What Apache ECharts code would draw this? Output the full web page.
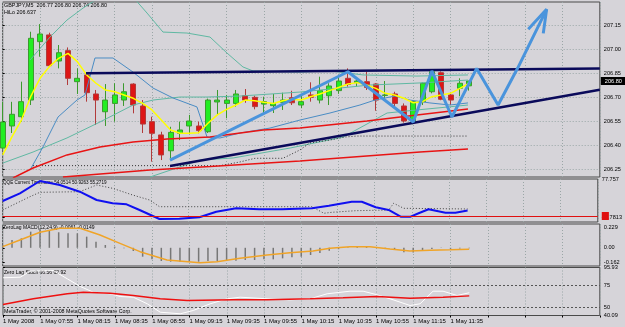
<!DOCTYPE html>
<html>
<head>
<meta charset="utf-8">
<script src="https://cdn.jsdelivr.net/npm/echarts@6/dist/echarts.min.js"></script>
<style>
  html, body { margin: 0; padding: 0; background: #d6d4d9; }
  #chart { width: 625px; height: 327px; }
</style>
</head>
<body>
<div id="chart"></div>
<script>
// time labels, one every 4 bars (M5)
var tickLabels = ['1 May 2008', '1 May 07:55', '1 May 08:15', '1 May 08:35', '1 May 08:55', '1 May 09:15',
    '1 May 09:35', '1 May 09:55', '1 May 10:15', '1 May 10:35', '1 May 10:55', '1 May 11:15', '1 May 11:35']
var barCount = 65   // 51 bars + empty space on the right

// GBPJPY M5 candles
var open = [206.381, 206.519, 206.577, 206.681, 207.046, 207.088, 206.925, 206.99, 206.796, 206.838,
    206.719, 206.608, 206.66, 206.681, 206.781, 206.644, 206.546, 206.463, 206.364, 206.473,
    206.519, 206.519, 206.483, 206.669, 206.66, 206.66, 206.708, 206.698, 206.656, 206.646,
    206.667, 206.696, 206.65, 206.713, 206.681, 206.708, 206.74, 206.817, 206.79, 206.796,
    206.781, 206.71, 206.719, 206.644, 206.55, 206.671, 206.733, 206.852, 206.713, 206.755, 206.77]
var close = [206.544, 206.592, 206.671, 207.067, 207.094, 206.896, 206.977, 206.817, 206.817, 206.727,
    206.681, 206.681, 206.713, 206.733, 206.65, 206.531, 206.473, 206.338, 206.479, 206.494,
    206.55, 206.49, 206.681, 206.681, 206.681, 206.719, 206.681, 206.64, 206.671, 206.66,
    206.681, 206.664, 206.671, 206.698, 206.74, 206.769, 206.8, 206.779, 206.8, 206.76,
    206.681, 206.713, 206.66, 206.55, 206.671, 206.786, 206.858, 206.686, 206.681, 206.786, 206.80]
var low = [206.37, 206.475, 206.546, 206.65, 206.952, 206.89, 206.879, 206.775, 206.719, 206.671,
    206.525, 206.519, 206.546, 206.644, 206.598, 206.475, 206.296, 206.306, 206.317, 206.431,
    206.473, 206.473, 206.475, 206.588, 206.567, 206.64, 206.664, 206.623, 206.598, 206.6,
    206.619, 206.65, 206.63, 206.671, 206.66, 206.65, 206.72, 206.765, 206.765, 206.744,
    206.614, 206.681, 206.63, 206.54, 206.53, 206.65, 206.723, 206.68, 206.65, 206.705, 206.74]
var high = [206.67, 206.67, 206.796, 207.108, 207.156, 207.102, 207.025, 207.01, 206.879, 206.848,
    206.744, 206.781, 206.786, 206.786, 206.786, 206.681, 206.577, 206.483, 206.514, 206.546,
    206.588, 206.546, 206.69, 206.744, 206.713, 206.744, 206.75, 206.708, 206.702, 206.719,
    206.727, 206.739, 206.71, 206.792, 206.827, 206.786, 206.838, 206.879, 206.82, 206.858,
    206.786, 206.8, 206.733, 206.66, 206.68, 206.79, 206.864, 206.86, 206.72, 206.817, 206.80]

// fast MA (yellow), one value per bar
var maFast = [206.338, 206.452, 206.556, 206.702, 206.817, 206.89, 206.942, 206.973, 206.921, 206.838,
    206.786, 206.744, 206.733, 206.713, 206.692, 206.66, 206.619, 206.556, 206.494, 206.473,
    206.473, 206.477, 206.536, 206.588, 206.623, 206.65, 206.681, 206.677, 206.667, 206.66,
    206.677, 206.686, 206.681, 206.702, 206.719, 206.74, 206.76, 206.781, 206.79, 206.775,
    206.754, 206.723, 206.713, 206.692, 206.664, 206.671, 206.702, 206.713, 206.723, 206.754, 206.786]

// slow MAs (red), [bar, price]
var maSlow1 = [[1.1, 206.194], [3.25, 206.256], [6.89, 206.338], [10.43, 206.388], [13.97, 206.419], [17.61, 206.438],
    [22.22, 206.45], [27.9, 206.494], [31.86, 206.506], [39.04, 206.55], [44.4, 206.588], [49.87, 206.625]]
var maSlow2 = [[6.46, 206.2], [15.79, 206.244], [22.22, 206.266], [31.86, 206.3], [44.73, 206.356], [49.87, 206.375]]

// channel lines
var bandBlue = [[2.93, 206.244], [4.32, 206.388], [5.93, 206.575], [7.96, 206.681], [8.82, 206.713], [9.89, 206.944],
    [11.82, 206.944], [13.97, 206.856], [16.11, 206.756], [18.25, 206.694], [20.82, 206.638], [21.9, 206.45],
    [23.29, 206.444], [25.43, 206.475], [28.65, 206.506], [31.86, 206.556], [35.08, 206.6], [38.29, 206.65],
    [39.9, 206.681], [42.04, 206.706], [43.65, 206.681], [45.79, 206.663], [47.94, 206.65], [49.87, 206.663]]
var bandTealUp = [[2.93, 206.931], [5.07, 207.075], [6.89, 207.181], [8.61, 207.256], [10.43, 207.325], [13.97, 207.325],
    [15.47, 207.225], [17.18, 207.106], [19.75, 207.1], [22.22, 207.075], [24.04, 206.975], [25.75, 206.888],
    [26.83, 206.863], [31.86, 206.856], [35.08, 206.863], [38.62, 206.838], [44.4, 206.831], [49.87, 206.838]]
var bandTealMid = [[0, 206.287], [3.25, 206.356], [6.89, 206.444], [10.43, 206.544], [13.97, 206.65], [16.11, 206.681],
    [19.0, 206.7], [21.9, 206.7], [25.43, 206.706], [31.86, 206.731], [39.36, 206.775], [44.73, 206.788], [49.87, 206.806]]
var bandTealLow = [[15.79, 206.2], [21.17, 206.306], [24.7, 206.319], [30.8, 206.381], [36.5, 206.45], [41.2, 206.6],
    [44.4, 206.619], [49.87, 206.65]]
var hiloDots = [[3.25, 206.271], [23.29, 206.271], [25.43, 206.294], [27.04, 206.317], [30.04, 206.317], [31.86, 206.369],
    [32.9, 206.413], [35.08, 206.431], [36.68, 206.45], [37.97, 206.456], [49.87, 206.456]]

// hand drawn objects
var resistance = [[8.93, 206.848], [64, 206.879]]
var support = [[17.93, 206.269], [64, 206.746]]
var zigzag = [[17.93, 206.306], [37.0, 206.858], [44.0, 206.544], [46.0, 206.863], [48.15, 206.575],
    [50.8, 206.879], [53.1, 206.65], [55.2, 206.881], [58.3, 207.248]]
var arrowHead = [[56.33, 207.123], [58.3, 207.248], [57.94, 207.098]]

// QQE
var qqeFast = [[0, 61.26], [1.85, 67.03], [4.0, 76.26], [6.14, 73.26], [8.29, 68.23], [10.1, 62.01], [11.82, 59.53],
    [13.32, 58.78], [14.72, 54.51], [16.86, 47.76], [19.0, 47.98], [21.15, 49.03], [22.97, 53.23], [25.11, 55.78],
    [27.58, 55.03], [30.04, 55.03], [33.26, 55.78], [35.08, 57.73], [37.54, 60.73], [38.62, 60.73], [40.12, 56.53],
    [41.51, 54.51], [42.8, 49.48], [43.87, 49.48], [44.73, 52.03], [45.8, 55.03], [47.62, 52.48], [48.69, 52.48], [50, 54.05]]
var qqeSlow = [[0, 54.51], [1.1, 58.26], [2.93, 64.48], [4.0, 67.78], [8.29, 68.23], [10.1, 73.26], [11.82, 70.78],
    [13.97, 65.76], [15.79, 62.01], [16.86, 56.98], [33.26, 56.98], [34.54, 52.03], [35.4, 52.78], [37.97, 53.98],
    [41.51, 54.51], [42.05, 59.53], [43.12, 55.78], [50, 55.27]]

// ZeroLag MACD
var macdHist = [0.032, 0.089, 0.108, 0.184, 0.222, 0.203, 0.177, 0.165, 0.165, 0.127,
    0.07, 0.032, 0.013, -0.006, -0.036, -0.101, -0.131, -0.15, -0.158, -0.158,
    -0.158, -0.158, -0.15, -0.15, -0.147, -0.147, -0.139, -0.139, -0.131, -0.131,
    -0.12, -0.108, -0.101, -0.082, -0.059, -0.034, -0.016, 0.005, 0.012, 0.01,
    0.004, -0.009, -0.022, -0.05, -0.052, -0.033, -0.013, 0.003, -0.011, -0.009, -0.006]
var macdSignal = [[0, 0.013], [1.85, 0.089], [4.0, 0.177], [6.14, 0.222], [8.29, 0.222], [10.43, 0.146], [12.57, 0.051],
    [14.72, -0.044], [17.61, -0.139], [21.15, -0.17], [22.97, -0.158], [25.43, -0.12], [28.33, -0.082], [30.79, -0.056],
    [33.26, -0.036], [35.08, -0.006], [37.22, 0.013], [39.37, 0.013], [41.51, -0.014], [43.65, -0.036], [45.8, -0.028],
    [47.94, -0.022], [50, -0.015]]

// Zero Lag Stoch
var stochMain = [[0, 83.95], [1.85, 84.65], [2.93, 91.63], [5.39, 92.44], [6.89, 82.79], [8.29, 73.83], [9.68, 67.2],
    [11.5, 65.34], [12.57, 62.2], [13.97, 61.39], [15.47, 53.71], [16.86, 43.94], [19.0, 42.08], [20.4, 45.92],
    [22.22, 53.71], [24.04, 59.53], [25.43, 61.39], [28.33, 59.53], [30.79, 58.36], [32.94, 59.53], [34.76, 65.34],
    [37.22, 68.37], [38.62, 68.37], [40.12, 64.18], [41.83, 58.36], [43.65, 51.74], [44.73, 53.71], [46.12, 68.37],
    [47.19, 68.37], [48.69, 63.37], [50, 66.56]]
var stochSignal = [[0, 52.9], [3.25, 59.5], [6.89, 65.3], [8.61, 67.2], [11.5, 66.0], [13.97, 63.4], [16.86, 59.5],
    [19.75, 57.55], [24.68, 58.4], [28.33, 58.4], [32.94, 59.5], [36.47, 60.7], [40.12, 62.2], [43.65, 60.2],
    [47.19, 61.4], [50, 62.92]]

var priceTicks = [206.25, 206.40, 206.55, 206.70, 206.85, 207.00, 207.15]
var qqeTicks = [48.7813, 77.757]
var macdTicks = [-0.162, 0, 0.229]
var stochTicks = [40.09, 50, 75, 95.93]


var categories = []
for (let i = 0; i < barCount; i++) {
    categories.push(i % 4 === 0 && tickLabels[i / 4] ? tickLabels[i / 4] : '')
}
var candles = []
for (let i = 0; i < open.length; i++) {
    candles.push([open[i], close[i], low[i], high[i]])
}

var FONT = 'Liberation Sans'
var gridLeft = 2.7, gridWidth = 597.1
var panels = [
    { top: 2, height: 175 },
    { top: 179, height: 43 },
    { top: 224, height: 42 },
    { top: 267.5, height: 48 }
]

var dotted = { color: '#9aa6a6', type: [1, 2], width: 1 }

function catAxis(g, showLabel) {
    return {
        type: 'category', gridIndex: g, data: categories, boundaryGap: false,
        axisLine: { show: false },
        axisTick: { show: showLabel, interval: 3, length: 2, lineStyle: { color: '#000' } },
        axisLabel: {
            show: showLabel, interval: 3, align: 'left', margin: 3,
            fontSize: 6, color: '#000', fontFamily: FONT
        },
        splitLine: { show: true, interval: 3, lineStyle: dotted }
    }
}
function valAxis(g) {
    return { type: 'value', gridIndex: g, min: 0, max: barCount - 1, show: false }
}
function yAx(g, min, max, ticks, fmt, split) {
    return {
        type: 'value', gridIndex: g, position: 'right', min: min, max: max, scale: true,
        axisLine: { show: false },
        axisTick: { show: true, length: 2, customValues: ticks, lineStyle: { color: '#000' } },
        axisLabel: {
            customValues: ticks, margin: 4, fontSize: 5.6, color: '#000', fontFamily: FONT,
            formatter: fmt
        },
        splitLine: { show: split, lineStyle: dotted }
    }
}
function lineS(x, y, data, color, width, type) {
    return {
        type: 'line', xAxisIndex: x, yAxisIndex: y, data: data, symbol: 'none',
        lineStyle: { color: color, width: width, type: type || 'solid' },
        silent: true, clip: true
    }
}
function txt(left, top, text, size) {
    return {
        type: 'text', left: left, top: top,
        style: { text: text, fontSize: size, fontFamily: FONT, fill: '#000' }
    }
}

var myChart = echarts.init(document.getElementById('chart'))

option = {
    backgroundColor: '#d6d4d9',
    animation: false,
    textStyle: { fontFamily: FONT },
    grid: panels.map(function (p) {
        return {
            left: gridLeft, width: gridWidth, top: p.top, height: p.height,
            show: true, borderColor: '#4a4a4a', borderWidth: 1, backgroundColor: 'transparent'
        }
    }),
    xAxis: [
        catAxis(0, false), valAxis(0),
        catAxis(1, false), valAxis(1),
        catAxis(2, false), valAxis(2),
        catAxis(3, true), valAxis(3)
    ],
    yAxis: [
        yAx(0, 206.2, 207.294, priceTicks, function (v) { return v.toFixed(2) }, true),
        yAx(1, 45.5, 77.757, qqeTicks, function (v) { return String(v) }, false),
        yAx(2, -0.207, 0.271, macdTicks, function (v) { return v === 0 ? '0.00' : String(v) }, false),
        yAx(3, 40.09, 95.93, stochTicks, function (v) { return String(v) }, false)
    ],
    graphic: [
        txt(4, 3, 'GBPJPY,M5  206.77 206.80 206.74 206.80', 5.4),
        txt(4, 10, 'HiLo 206.637', 5.4),
        txt(3, 180.5, 'QQE Current Timeframe 54.0514 50.9263 55.2719', 4.6),
        txt(3, 225.5, 'ZeroLag MACD(12,24,9) -0.0061 -0.0149', 5),
        txt(4, 270, 'Zero Lag Stoch 66.56 62.92', 5),
        txt(4, 309.5, 'MetaTrader, \u00a9 2001-2008 MetaQuotes Software Corp.', 5.3)
    ],
    series: [
        {
            type: 'candlestick', xAxisIndex: 0, yAxisIndex: 0, data: candles,
            barWidth: 5.5,
            itemStyle: {
                color: '#22ee22', color0: '#dd1616',
                borderColor: '#3c9a2e', borderColor0: '#b23a3a', borderWidth: 1
            },
            markLine: {
                silent: true, symbol: 'none',
                lineStyle: { color: 'rgba(0,0,0,0)', width: 1 },
                label: {
                    show: true, position: 'end', formatter: '206.80', distance: 1,
                    color: '#fff', backgroundColor: '#000', padding: [1, 4, 1, 4], fontSize: 5.6
                },
                emphasis: { disabled: true },
                data: [{ yAxis: 206.80 }]
            }
        },
        lineS(1, 0, bandTealUp, '#5fb8a2', 1),
        lineS(1, 0, bandTealMid, '#5fb8a2', 1),
        lineS(1, 0, bandTealLow, '#5fb8a2', 1),
        lineS(1, 0, bandBlue, '#4a8cc4', 1),
        lineS(1, 0, hiloDots, '#303030', 1, [1, 2]),
        lineS(1, 0, maSlow1, '#e81414', 1.5),
        lineS(1, 0, maSlow2, '#e81414', 1.5),
        lineS(0, 0, maFast, '#ffff00', 1.5),
        lineS(1, 0, resistance, '#0a0a5a', 2.5),
        lineS(1, 0, support, '#0a0a5a', 2.5),
        lineS(1, 0, zigzag, '#4a94dc', 3),
        lineS(1, 0, arrowHead, '#4a94dc', 3),

        // QQE
        {
            type: 'line', xAxisIndex: 3, yAxisIndex: 1, data: qqeSlow, symbol: 'none',
            lineStyle: { color: '#404040', width: 1, type: [1, 2] },
            markLine: {
                silent: true, symbol: 'none',
                lineStyle: { color: '#e01010', width: 1, type: 'solid' },
                label: {
                    show: true, position: 'end', formatter: ' ', distance: 4,
                    backgroundColor: '#e01010', padding: [2, 3, 2, 3], fontSize: 4
                },
                data: [{ yAxis: 50 }]
            }
        },
        lineS(3, 1, qqeFast, '#1010f0', 2),

        // MACD
        {
            type: 'bar', xAxisIndex: 4, yAxisIndex: 2, data: macdHist, barWidth: 1.5,
            itemStyle: { color: '#777777' }, silent: true
        },
        lineS(5, 2, macdSignal, '#f0a428', 1.5),

        // Stoch
        {
            type: 'line', xAxisIndex: 7, yAxisIndex: 3, data: stochMain, symbol: 'none',
            lineStyle: { color: '#ffffff', width: 1 },
            markLine: {
                silent: true, symbol: 'none', label: { show: false },
                lineStyle: { color: '#555', width: 1, type: [2, 2] },
                data: [{ yAxis: 75 }, { yAxis: 50 }]
            }
        },
        lineS(7, 3, stochSignal, '#ee1010', 1.5)
    ]
}

myChart.setOption(option)
window.addEventListener('resize', function () {
    myChart.resize()
})
</script>
</body>
</html>
